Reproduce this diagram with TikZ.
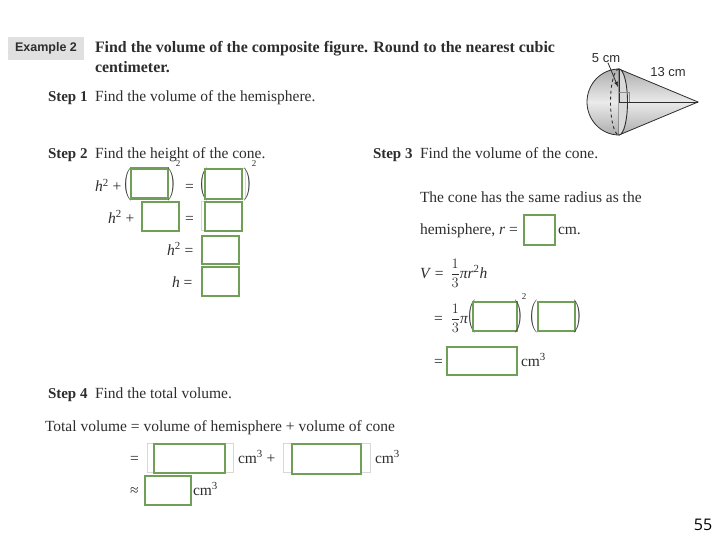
\documentclass[tikz,border=0pt]{standalone}
\usepackage{amsmath}
\usepackage{fontspec}
\setmainfont{Liberation Serif}
\newfontfamily\labelfont{Liberation Sans}
\newfontfamily\pagefont{Open Sans}
\usetikzlibrary{arrows}
\definecolor{boxgreen}{RGB}{112, 160, 88}
\definecolor{ghostgray}{RGB}{215, 215, 215}
\definecolor{inkgray}{RGB}{45, 45, 45}

\begin{document}
\begin{tikzpicture}[x=1pt,y=-1pt]

\tikzstyle{txt} = [anchor=base west,inner sep=0,outer sep=0,text=inkgray,font=\fontsize{15.5}{17}\selectfont]
\tikzstyle{head} = [txt,font=\fontsize{15.9}{17}\selectfont\bfseries]
\tikzstyle{steplabel} = [txt,font=\fontsize{15}{16}\selectfont\bfseries]
\tikzstyle{fig_label} = [inner sep=0,text=inkgray,font=\labelfont\fontsize{13}{15}\selectfont]
\tikzstyle{paren} = [inner sep=0,text=inkgray,font=\fontsize{11}{13}\selectfont]
\tikzstyle{sup_num} = [inner sep=0,text=inkgray,font=\fontsize{9}{10}\selectfont]
\tikzstyle{answer} = [draw=boxgreen,line width=2.4,fill=white,inner sep=0,outer sep=0]
\tikzstyle{ghost} = [draw=ghostgray,line width=1,inner sep=0,outer sep=0]

\useasboundingbox (0,0) rectangle (720,540);

\node [fill=black!12,text=inkgray,font=\labelfont\fontsize{12.5}{14}\selectfont\bfseries,minimum width=76,minimum height=23,inner sep=0] (example) at (46,48.5) {Example 2};
\node [head] (task) at (95,53) {Find the volume of the composite figure. Round to the nearest cubic};
\node [head] (taskb) at (95,73) {centimeter.};

% the figure
\shade[top color=black!32,bottom color=black!32,middle color=black!8,draw=inkgray,line width=0.8] (619,69) -- (698,102) -- (619,135) -- cycle;
\shade[top color=black!32,bottom color=black!32,middle color=black!8,draw=inkgray,line width=0.8] (619,69) arc (-90:-270:32 and 33) -- cycle;
\fill[black!15] (619,69) arc (-90:90:8.5 and 33) -- cycle;
\draw[inkgray,line width=0.9] (619,69) arc (-90:90:8.5 and 33);
\draw[inkgray,line width=0.9,dashed] (619,69) arc (-90:-270:8.5 and 33);
\draw[inkgray,line width=0.8] (619,69) -- (619,102) -- (698,102);
\draw[black!45,line width=0.6] (619,92) -- (629,92) -- (629,102);
\node [fig_label] (radius) at (606,58) {5 cm};
\node [fig_label] (slant) at (668,72.5) {13 cm};
\coordinate (radius_end) at (618,87);
\draw[-latex,inkgray,line width=0.8] (radius) -- (radius_end);

\node [steplabel] (stepa) at (48,102) {Step 1};
\node [txt] (stepat) at (95,102) {Find the volume of the hemisphere.};

\node [steplabel] (stepb) at (48,159) {Step 2};
\node [txt] (stepbt) at (95,159) {Find the height of the cone.};

\node [txt] (rowa) at (95,192) {\textit{h}\textsuperscript{2} +};
\node [paren] (rowal) at (127,184) {$\Bigg($};
\node [answer,minimum width=37,minimum height=30] (boxa) at (149.5,183.5) {};
\node [paren] (rowar) at (172,184) {$\Bigg)$};
\node [sup_num] (rowas) at (178,164) {2};
\node [txt] (rowae) at (185,192) {=};
\node [paren] (rowbl) at (203,184) {$\Bigg($};
\node [ghost,minimum width=40,minimum height=30] (ghostb) at (225,184) {};
\node [answer,minimum width=37,minimum height=30] (boxb) at (223.5,184) {};
\node [paren] (rowbr) at (248,184) {$\Bigg)$};
\node [sup_num] (rowbs) at (254,164) {2};

\node [txt] (rowc) at (108,223) {\textit{h}\textsuperscript{2} +};
\node [answer,minimum width=37,minimum height=29] (boxc) at (160.5,216.5) {};
\node [txt] (rowce) at (185,223) {=};
\node [ghost,minimum width=40,minimum height=29] (ghostd) at (221,216.5) {};
\node [answer,minimum width=37,minimum height=29] (boxd) at (223.5,216.5) {};

\node [txt] (rowd) at (167,255) {\textit{h}\textsuperscript{2} =};
\node [answer,minimum width=37,minimum height=28] (boxe) at (220.5,250) {};
\node [txt] (rowf) at (172,287) {\textit{h} =};
\node [answer,minimum width=37,minimum height=29] (boxf) at (220.5,281.5) {};

\node [steplabel] (stepc) at (373,159) {Step 3};
\node [txt] (stepct) at (420,159) {Find the volume of the cone.};
\node [txt] (same) at (420,203) {The cone has the same radius as the};
\node [txt] (hemi) at (420,234) {hemisphere, \textit{r} =};
\node [answer,minimum width=31,minimum height=30] (boxg) at (539.5,230) {};
\node [txt] (hemicm) at (558,234) {cm.};

\node [txt] (vol) at (420,278) {\textit{V} =\hspace{3pt} $\dfrac{1}{3}$\textit{πr}\textsuperscript{2}\textit{h}};
\node [txt] (vola) at (434,323) {=\hspace{4pt} $\dfrac{1}{3}$\textit{π}};
\node [paren] (volal) at (471,316.5) {$\Bigg($};
\node [answer,minimum width=44,minimum height=29] (boxh) at (495,316.5) {};
\node [paren] (volar) at (519,316.5) {$\Bigg)$};
\node [sup_num] (volas) at (524,297) {2};
\node [paren] (volbl) at (533,316.5) {$\Bigg($};
\node [answer,minimum width=37,minimum height=29] (boxi) at (556.5,316.5) {};
\node [paren] (volbr) at (578,316.5) {$\Bigg)$};
\node [txt] (volc) at (434,366) {=};
\node [answer,minimum width=70,minimum height=28] (boxj) at (482,361) {};
\node [txt] (volcm) at (521,366) {cm\textsuperscript{3}};

\node [steplabel] (stepd) at (48,398) {Step 4};
\node [txt] (stepdt) at (95,398) {Find the total volume.};
\node [txt] (total) at (45,431) {Total volume = volume of hemisphere + volume of cone};
\node [txt] (sum) at (130,463) {=};
\node [ghost,minimum width=86,minimum height=29] (ghostk) at (190,457.5) {};
\node [answer,minimum width=71,minimum height=29] (boxk) at (189.5,458.5) {};
\node [txt] (sumcm) at (238,463) {cm\textsuperscript{3} +};
\node [ghost,minimum width=87,minimum height=29] (ghostl) at (326.5,457.5) {};
\node [answer,minimum width=69,minimum height=30] (boxl) at (326.5,459) {};
\node [txt] (sumcmb) at (375,463) {cm\textsuperscript{3}};
\node [txt] (approx) at (130,495) {≈};
\node [answer,minimum width=46,minimum height=29] (boxm) at (168,490.5) {};
\node [txt] (approxcm) at (193,495) {cm\textsuperscript{3}};

\node [text=black,inner sep=0,font=\pagefont\fontsize{16}{18}\selectfont] (pagenum) at (703,525) {55};

\end{tikzpicture}
\end{document}
